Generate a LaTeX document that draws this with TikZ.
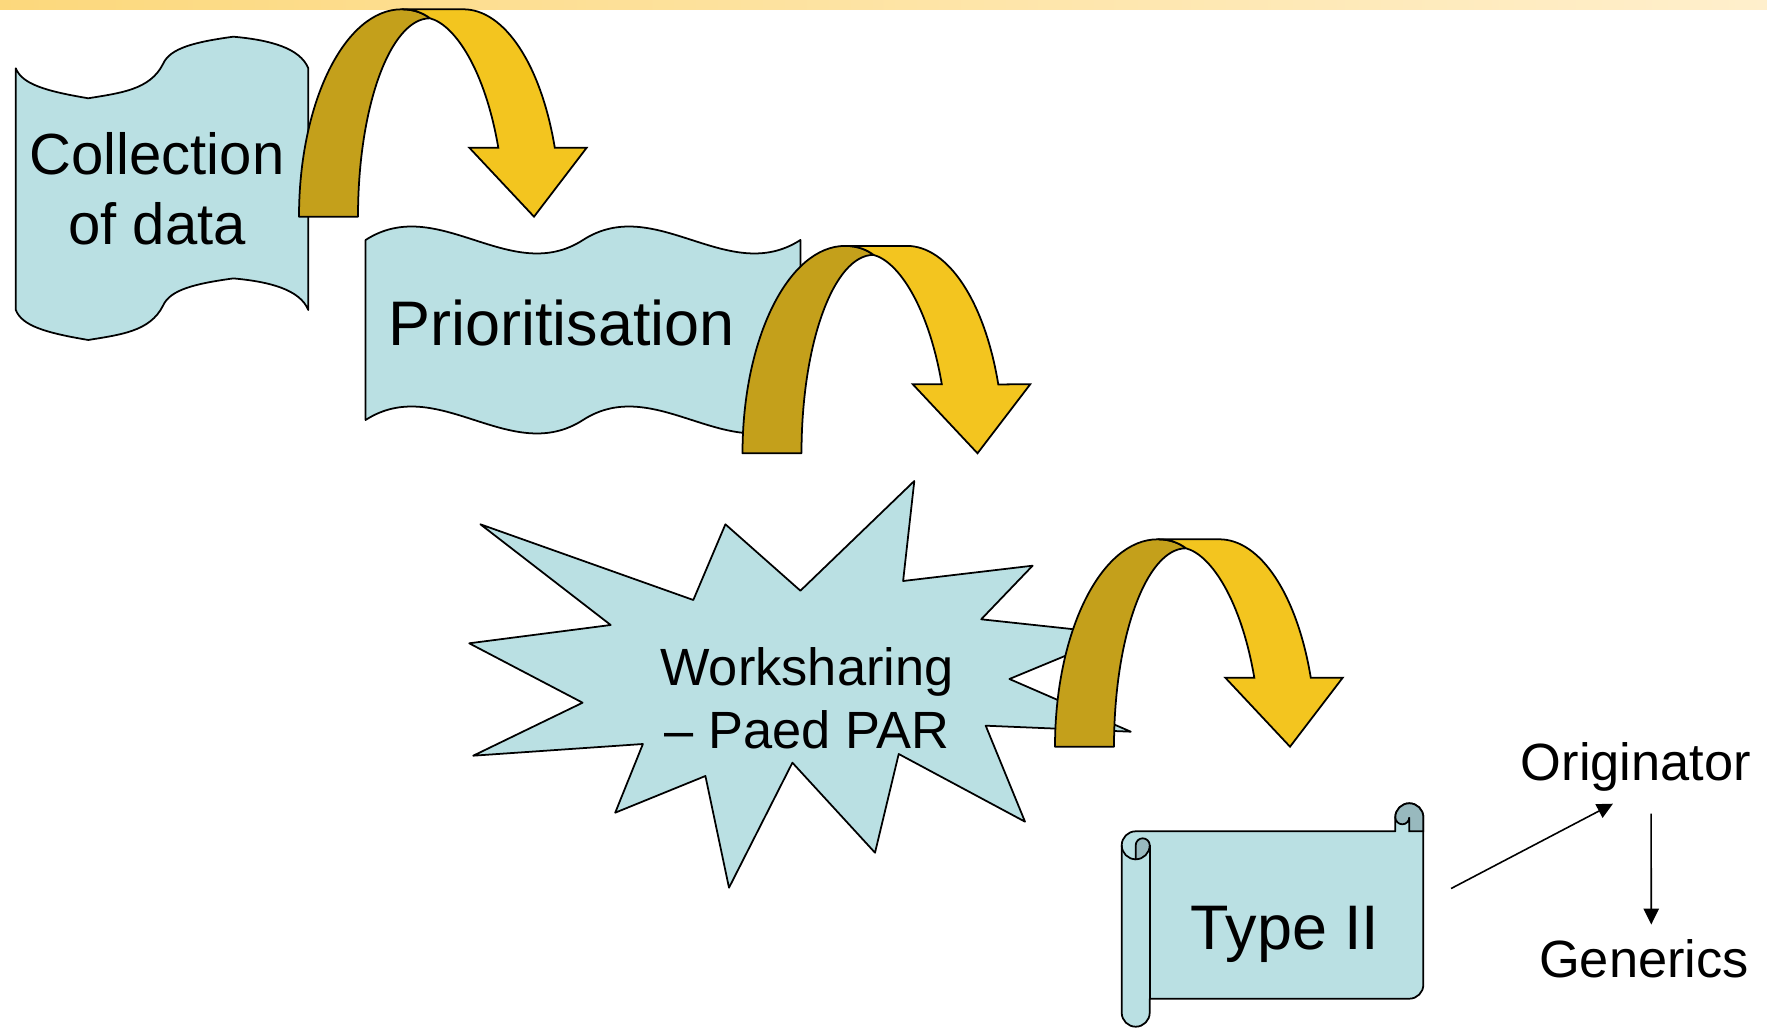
\documentclass[tikz,border=0pt]{standalone}
\usepackage{fontspec}
\setmainfont{Liberation Sans}
\usetikzlibrary{arrows.meta}
\definecolor{paperblue}{RGB}{186,224,227}
\definecolor{curlblue}{RGB}{152,185,190}
\definecolor{arrowgold}{RGB}{196,160,27}
\definecolor{arrowyellow}{RGB}{243,197,31}
\definecolor{barleft}{RGB}{252,216,124}
\definecolor{barright}{RGB}{255,239,204}
\tikzset{
  papershape/.style={
    draw=black, line width=0.5pt, fill=paperblue, line join=round
  },
  curlshape/.style={
    draw=black, line width=0.5pt, fill=curlblue
  },
  arrowback/.style={
    draw=black, line width=0.5pt, fill=arrowgold, line join=round
  },
  arrowfront/.style={
    draw=black, line width=0.5pt, fill=arrowyellow
  },
  labelnode/.style={
    align=center, inner sep=0pt, text=black
  },
  linkarrow/.style={line width=0.45pt, -{Triangle[length=4.5pt, width=4.3pt]}},
  bentarrow/.pic={
    % back of the ribbon
    \filldraw[arrowback] (0,0)
      arc[start angle=180, end angle=270, x radius=102.7, y radius=207.4]
      .. controls (116,-207.4) and (125,-203) .. (131,-198.4)
      arc[start angle=270, end angle=180, x radius=72, y radius=198.4]
      -- cycle;
    % front of the ribbon with the head
    \filldraw[arrowfront] (102.7,-207.4) -- (164.3,-207.4)
      arc[start angle=270, end angle=340.6, x radius=97, y radius=207.4]
      -- (287.7,-69) -- (235,0) -- (170.3,-69) -- (199.3,-69)
      .. controls (186,-146.7) and (156,-191.7) .. (131,-198.4)
      .. controls (125,-203) and (116,-207.4) .. (102.7,-207.4)
      -- cycle;
  }
}

\begin{document}
\begin{tikzpicture}[x=0.01cm, y=-0.01cm]
  \useasboundingbox (0,0) rectangle (1767,1028);

  %% — — — Title bar — — —
  \fill[left color=barleft, right color=barright] (0,0) rectangle (1767,10);

  %% — — — Collection (wave) — — —
  \draw[papershape] (15.8,68.3)
    .. controls (22,84) and (45,91) .. (88.3,98.3)
    .. controls (120,93) and (150,90) .. (163,64)
    .. controls (170,48) and (195,42) .. (233.3,36.7)
    .. controls (270,40) and (300,48) .. (308.3,68.3)
    -- (308.3,310)
    .. controls (300,289.7) and (270,281.7) .. (233.3,278.4)
    .. controls (195,283.7) and (170,289.7) .. (163,305.7)
    .. controls (150,331.7) and (120,334.7) .. (88.3,340)
    .. controls (45,332.7) and (22,325.7) .. (15.8,310) -- cycle;
  \node[labelnode, font=\fontsize{16.5}{19.9}\selectfont] (collect) at (157,189)
    {Collection\\of data};

  %% — — — Prioritisation (double wave) — — —
  \draw[papershape] (365.6,240)
    .. controls (438,193.3) and (510.5,286.7) .. (583,240)
    .. controls (655.5,193.3) and (728,286.7) .. (800.4,240)
    -- (800.4,420)
    .. controls (728,466.7) and (655.5,373.3) .. (583,420)
    .. controls (510.5,466.7) and (438,373.3) .. (365.6,420) -- cycle;
  \node[labelnode, font=\fontsize{17.9}{21.5}\selectfont] (prior) at (561.5,323)
    {Prioritisation};

  %% — — — Bent arrows — — —
  \pic (arrA) at (299,216.7) {bentarrow};
  \pic (arrB) at (742.5,453.3) {bentarrow};

  %% — — — Worksharing (explosion) — — —
  \draw[papershape] (480.4,524.3) -- (693.3,600) -- (725.4,524.3) -- (800.4,590.7)
    -- (914.3,481) -- (903.1,581) -- (1032.6,565.7) -- (981.2,619.3)
    -- (1118,634) -- (1009.4,679) -- (1130.8,731.7) -- (985.7,725.7)
    -- (1025,821.7) -- (898.7,754) -- (875,852.7) -- (792.4,762.7)
    -- (729,887.7) -- (705.4,776) -- (615.2,812.7) -- (642.9,744)
    -- (473.2,755.7) -- (582.6,702.7) -- (469.2,643.3) -- (610.7,625) -- cycle;
  \node[labelnode, font=\fontsize{14.9}{17.9}\selectfont] (work) at (807,698)
    {Worksharing\\-- Paed PAR};

  \pic (arrC) at (1055,746.7) {bentarrow};

  %% — — — Type II (scroll) — — —
  \draw[papershape] (1121.7,1012.7) -- (1121.7,845.3)
    arc[start angle=180, end angle=270, radius=14] -- (1395.3,831.3) -- (1395.3,817.3)
    arc[start angle=180, end angle=360, radius=14] -- (1423.3,984.7)
    arc[start angle=0, end angle=90, radius=14] -- (1149.7,998.7) -- (1149.7,1012.7)
    arc[start angle=0, end angle=180, radius=14] -- cycle;
  % left roll
  \draw[line width=0.5pt] (1149.7,845.3) -- (1149.7,998.7);
  \filldraw[curlshape] (1135.7,859.3) -- (1135.7,845.3)
    arc[start angle=180, end angle=360, radius=7]
    arc[start angle=0, end angle=90, radius=14] -- cycle;
  \draw[line width=0.5pt] (1121.7,845.3) arc[start angle=180, end angle=90, radius=14];
  % right roll
  \filldraw[curlshape] (1409.3,831.3) -- (1409.3,817.3)
    arc[start angle=0, end angle=180, radius=7]
    arc[start angle=180, end angle=360, radius=14] -- (1423.3,831.3) -- cycle;
  \node[labelnode, font=\fontsize{17.9}{21.5}\selectfont] (typeii) at (1285,934)
    {Type II};

  %% — — — Originator / Generics — — —
  \node[labelnode, font=\fontsize{14.9}{17.9}\selectfont] (orig) at (1636,766.5)
    {Originator};
  \node[labelnode, font=\fontsize{14.9}{17.9}\selectfont] (gen) at (1644,958.5)
    {Generics};

  %% — — — Arrows — — —
  \draw[linkarrow, shorten <=0.8cm, shorten >=0.26cm] (typeii.5) -- (orig.south);
  \draw[linkarrow, shorten <=0.22cm, shorten >=0.14cm] (orig.301) -- (gen.70);

\end{tikzpicture}
\end{document}
